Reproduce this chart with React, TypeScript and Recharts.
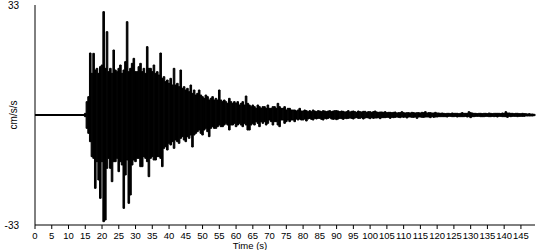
import React from "react";
import { ComposedChart, Bar, Line, XAxis, YAxis, Label } from "recharts";

// Accelerogram drawn as min/max per 0.5 s bin, from the onset at 15 s (cm/s/s).
const ONSET_TIME = 15;
const BIN = 0.5;

// 15.0 s – 37.5 s: strong motion
const strongUpper = [
  0.5, 4, 5.5, 18.6, 12.5, 18.5, 13.5, 14, 12.5, 14.5,
  15, 31, 14, 25, 13, 14, 12.5, 19.5, 13.5, 13,
  14, 15, 12.5, 13.5, 16, 28, 13, 14, 15.5, 17,
  13, 13, 14.5, 15.5, 13, 14, 12.5, 20.5, 14, 14,
  13, 15, 12.5, 13, 12, 18.6,
];
const strongLower = [
  -0.5, -4, -5.5, -8, -12.5, -13, -22, -14, -19.5, -25,
  -14, -32, -31.5, -16, -13, -16, -20, -14, -14, -13,
  -17, -14, -15, -28, -18, -13.5, -26.5, -24, -15, -13.5,
  -14, -13, -13, -15.5, -15.5, -12.5, -13, -14, -18.5, -13,
  -12.5, -13.5, -13.5, -12.5, -12.5, -13,
];

// 38.0 s – 63.5 s: early coda
const earlyUpper = [
  11, 11.5, 10, 10.5, 9.5, 11, 9, 14, 9, 9.5,
  8.5, 13.5, 8, 8.5, 7.5, 8, 7, 9, 6.5, 7.5,
  6, 6.5, 7.5, 6, 5.5, 5, 6, 5.5, 4.5, 5,
  5.5, 4.5, 5, 4.5, 7.5, 4.5, 4, 4.5, 4, 3.5,
  5, 4, 3.5, 4, 3.5, 4, 3, 3.5, 4, 3,
  5.7, 3.5,
];
const earlyLower = [
  -15.5, -10, -9.5, -10.5, -8.5, -9, -8, -10, -7.5, -8,
  -8.5, -7, -6.5, -7.5, -8, -6.5, -7, -6, -9.6, -6,
  -5.5, -5, -4.5, -5.5, -6, -4.5, -4, -5, -6.5, -4,
  -3.5, -4, -4, -3.5, -3, -3.5, -3.5, -3, -2.5, -3,
  -4.5, -3, -3, -2.5, -3.5, -3, -2.5, -3, -3.5, -2.5,
  -3, -4.5,
];

// 64.0 s – 89.5 s: late coda
const lateUpper = [
  3, 2.5, 3, 2.5, 2, 3, 2.5, 2, 2.5, 2.5,
  2, 3, 2, 2, 2.5, 2.5, 2, 3.5, 2.5, 2,
  2, 2.5, 1.5, 2, 2, 1.5, 1.5, 1.5, 1.2, 1.5,
  2, 1.2, 1.2, 1.5, 1.3, 1, 1.3, 1, 1.5, 1.2,
  1, 1.3, 1.2, 1, 1.3, 1.2, 1, 1.2, 1.3, 1,
  1.2, 1.3,
];
const lateLower = [
  -4.5, -3, -2.5, -3, -2, -2.5, -3.5, -2, -2.5, -2,
  -3, -2.5, -1.5, -2, -3, -2, -2, -3, -3.5, -1.5,
  -1.5, -2.5, -2, -1.5, -2, -1.5, -1.5, -2, -1.2, -1.5,
  -1.2, -1.5, -1.5, -1.2, -1.8, -1.2, -1, -1.3, -1.5, -1,
  -1.2, -1, -1, -1.3, -1.5, -1, -1.2, -1, -0.8, -1.2,
  -1.3, -1.2,
];

// 90.0 s – 149.0 s: tail
const tailUpper = [
  1.3, 1.2, 1, 1.2, 1.1, 0.9, 1, 1.3, 0.9, 1.1,
  1.2, 1, 0.8, 1.2, 1, 0.9, 1.1, 1.1, 0.8, 1,
  1, 0.8, 1, 1.2, 0.9, 0.8, 0.9, 0.9, 0.8, 1,
  0.7, 0.8, 0.8, 0.7, 0.8, 0.9, 0.6, 0.7, 0.7, 1,
  0.7, 0.6, 0.7, 0.7, 0.6, 0.8, 0.7, 0.6, 0.7, 0.7,
  0.6, 0.8, 0.7, 1, 0.6, 0.7, 0.7, 0.6, 0.6, 0.8,
  0.6, 0.6, 0.5, 0.6, 0.5, 0.4, 0.5, 0.5, 0.4, 0.6,
  0.5, 0.5, 0.5, 0.4, 0.5, 0.7, 0.5, 0.5, 0.5, 1,
  0.7, 0.6, 0.5, 0.5, 0.4, 0.5, 0.5, 0.4, 0.5, 0.5,
  0.4, 0.6, 0.5, 0.4, 0.5, 0.5, 0.5, 0.5, 0.4, 0.6,
  0.5, 1, 0.6, 0.6, 0.5, 0.5, 0.4, 0.5, 0.5, 0.4,
  0.4, 0.5, 0.4, 0.4, 0.3, 0.4, 0.3, 0.3, 0.2,
];
const tailLower = [
  -1.4, -1.2, -1, -1.1, -1.3, -1, -1.1, -1, -0.9, -1,
  -1.2, -0.9, -0.8, -1, -1, -0.8, -1.2, -0.9, -0.8, -0.9,
  -1.1, -0.8, -1, -0.9, -0.9, -0.8, -1.1, -0.8, -0.8, -0.8,
  -0.7, -0.7, -1, -0.7, -0.8, -0.7, -0.6, -0.7, -0.8, -0.6,
  -0.7, -0.6, -0.9, -0.6, -0.6, -0.7, -0.7, -0.6, -1, -0.6,
  -0.6, -0.7, -0.7, -0.6, -0.6, -0.6, -0.8, -0.5, -0.7, -0.6,
  -0.6, -0.5, -0.5, -0.5, -0.5, -0.5, -0.6, -0.4, -0.4, -0.5,
  -0.5, -0.4, -0.6, -0.5, -0.5, -0.5, -0.5, -0.4, -0.6, -0.5,
  -0.8, -0.5, -0.5, -0.4, -0.4, -0.4, -0.5, -0.5, -0.5, -0.4,
  -0.4, -0.5, -0.5, -0.4, -0.5, -0.4, -0.6, -0.4, -0.4, -0.5,
  -0.5, -0.5, -0.7, -0.4, -0.5, -0.4, -0.4, -0.4, -0.5, -0.4,
  -0.4, -0.4, -0.4, -0.3, -0.3, -0.3, -0.3, -0.3, -0.2,
];

const timeTicks = [
  0, 5, 10, 15, 20, 25, 30, 35, 40, 45, 50, 55, 60, 65, 70,
  75, 80, 85, 90, 95, 100, 105, 110, 115, 120, 125, 130, 135, 140, 145,
];
const accelTicks = [-33, 33];

const upper = [...strongUpper, ...earlyUpper, ...lateUpper, ...tailUpper];
const lower = [...strongLower, ...earlyLower, ...lateLower, ...tailLower];

// quiet record before the onset is a flat zero line
const data = [
  { t: 0, pre: 0 },
  ...upper.map((hi, i) => ({
    t: ONSET_TIME + i * BIN,
    range: [lower[i], hi],
    pre: i === 0 ? 0 : undefined,
  })),
];

const FONT = "'Liberation Sans', Arial, sans-serif";

export default function App() {
  return (
    <div style={{ position: "absolute", left: 0, top: 0, width: 550, height: 250 }}>
      <ComposedChart
        width={550}
        height={250}
        data={data}
        margin={{ top: 5, right: 15, bottom: 0, left: 0 }}
        barGap={0}
        barCategoryGap={0}
      >
        <XAxis
          dataKey="t"
          type="number"
          domain={[0, 149.2]}
          ticks={timeTicks}
          interval={0}
          height={25}
          tickSize={4}
          tickMargin={3}
          axisLine={{ stroke: "#000" }}
          tickLine={{ stroke: "#000" }}
          tick={{ fontSize: 9.5, fill: "#000", fontFamily: FONT }}
        >
          <Label
            content={() => (
              <text x={250} y={248.5} textAnchor="middle" fontSize={9.5} fontFamily={FONT} fill="#000">
                Time (s)
              </text>
            )}
          />
        </XAxis>
        <YAxis
          type="number"
          domain={[-33, 33]}
          ticks={accelTicks}
          width={35}
          tickLine={false}
          tickMargin={10}
          axisLine={{ stroke: "#000" }}
          tick={{ fontSize: 10, fill: "#000", fontFamily: FONT }}
          label={{
            value: "cm/s/s",
            angle: -90,
            position: "insideLeft",
            offset: 13,
            fontSize: 10,
            fill: "#000",
            fontFamily: FONT,
            style: { textAnchor: "middle" },
          }}
        />
        <Bar
          dataKey="range"
          fill="#000"
          stroke="#000"
          strokeWidth={1}
          barSize={1.6}
          isAnimationActive={false}
        />
        <Line
          type="linear"
          dataKey="pre"
          stroke="#000"
          strokeWidth={2}
          dot={false}
          isAnimationActive={false}
        />
      </ComposedChart>
    </div>
  );
}
